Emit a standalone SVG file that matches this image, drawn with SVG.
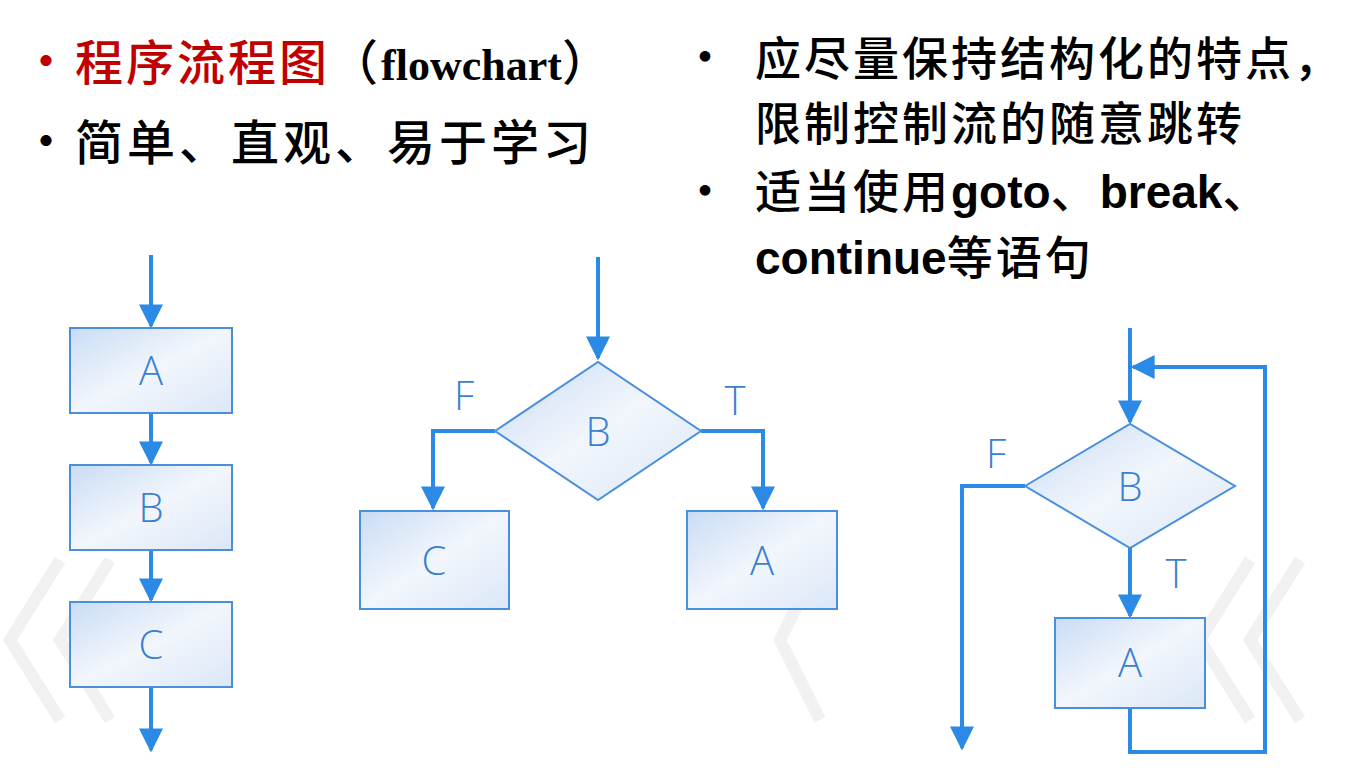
<svg xmlns="http://www.w3.org/2000/svg" width="1350" height="773" viewBox="0 0 1350 773">
<defs>
<linearGradient id="g" x1="0" y1="0" x2="1" y2="1"><stop offset="0" stop-color="#c9dcf5"/><stop offset="0.5" stop-color="#f2f6fc"/><stop offset="1" stop-color="#dbe7f7"/></linearGradient>
<marker id="a" viewBox="0 0 10 10" refX="9" refY="5" markerWidth="7" markerHeight="6" orient="auto"><path d="M0,0 L10,5 L0,10 z" fill="#2a8ae6"/></marker>
</defs>
<style>
.t{font-family:"Noto Sans CJK SC",sans-serif;font-size:48px;font-weight:500;fill:#000;letter-spacing:3px}
.r{font-size:46px}
.b{font-family:"Liberation Sans",sans-serif;font-weight:bold;letter-spacing:0}
.bx{fill:url(#g);stroke:#4a8fdc;stroke-width:2}
.l{font-family:"Open Sans","DejaVu Sans",sans-serif;font-weight:300;font-size:40px;fill:#3a7fd0;text-anchor:middle}
.c{fill:none;stroke:#2a8ae6;stroke-width:4;marker-end:url(#a)}
.w{fill:none;stroke:#e4e4e4;stroke-width:12;opacity:0.5}
</style>
<rect width="1350" height="773" fill="#fff"/>
<g id="watermark">
<path class="w" d="M60,560 L10,640 L60,720 M110,560 L60,640 L110,720"/>
<path class="w" d="M820,560 L780,640 L820,720 M1300,560 L1250,640 L1300,720 M1250,560 L1200,640 L1250,720"/>
</g>
<g id="text">
<text x="22" y="78" class="t" style="fill:#c00000">•</text>
<text x="75" y="80" class="t" style="fill:#c00000">程序流程图<tspan style="fill:#000">（</tspan><tspan style="fill:#000;font-family:'Liberation Serif',serif;font-weight:bold;font-size:44px;letter-spacing:0">flowchart</tspan><tspan style="fill:#000">）</tspan></text>
<text x="22" y="158" class="t">•</text>
<text x="75" y="160" class="t" style="letter-spacing:4px">简单、直观、易于学习</text>
<text x="682" y="73" class="t r">•</text>
<text x="755" y="75" class="t r">应尽量保持结构化的特点，</text>
<text x="755" y="140" class="t r">限制控制流的随意跳转</text>
<text x="682" y="207" class="t r">•</text>
<text x="755" y="208" class="t r">适当使用<tspan class="b">goto</tspan>、<tspan class="b">break</tspan>、</text>
<text x="755" y="274" class="t r"><tspan class="b">continue</tspan>等语句</text>
</g>
<g id="connectors">
<path class="c" d="M151,255 V326"/>
<path class="c" d="M151,413 V463"/>
<path class="c" d="M151,550 V600"/>
<path class="c" d="M151,687 V750"/>
<path class="c" d="M598,257 V358"/>
<path class="c" d="M495,431 H433 V508"/>
<path class="c" d="M701,431 H763 V508"/>
<path class="c" d="M1130,328 V422"/>
<path class="c" d="M1025,486 H962 V748"/>
<path class="c" d="M1130,548 V616"/>
<path class="c" d="M1130,708 V752 H1265 V367 H1133"/>
</g>
<g id="n1"><rect class="bx" x="70" y="328" width="162" height="85"/><text class="l" x="151" y="385">A</text></g>
<g id="n2"><rect class="bx" x="70" y="465" width="162" height="85"/><text class="l" x="151" y="522">B</text></g>
<g id="n3"><rect class="bx" x="70" y="602" width="162" height="85"/><text class="l" x="151" y="659">C</text></g>
<g id="n4"><polygon class="bx" points="495,431 598,362 701,431 598,500"/><text class="l" x="598" y="446">B</text></g>
<g id="n5"><rect class="bx" x="360" y="511" width="149" height="98"/><text class="l" x="434" y="575">C</text></g>
<g id="n6"><rect class="bx" x="687" y="511" width="150" height="98"/><text class="l" x="762" y="575">A</text></g>
<g id="n7"><polygon class="bx" points="1025,486 1130,424 1235,486 1130,548"/><text class="l" x="1130" y="501">B</text></g>
<g id="n8"><rect class="bx" x="1055" y="618" width="150" height="90"/><text class="l" x="1130" y="677">A</text></g>
<g id="labels">
<text class="l" x="464" y="410">F</text>
<text class="l" x="735" y="415">T</text>
<text class="l" x="996" y="468">F</text>
<text class="l" x="1176" y="588">T</text>
</g>
</svg>
